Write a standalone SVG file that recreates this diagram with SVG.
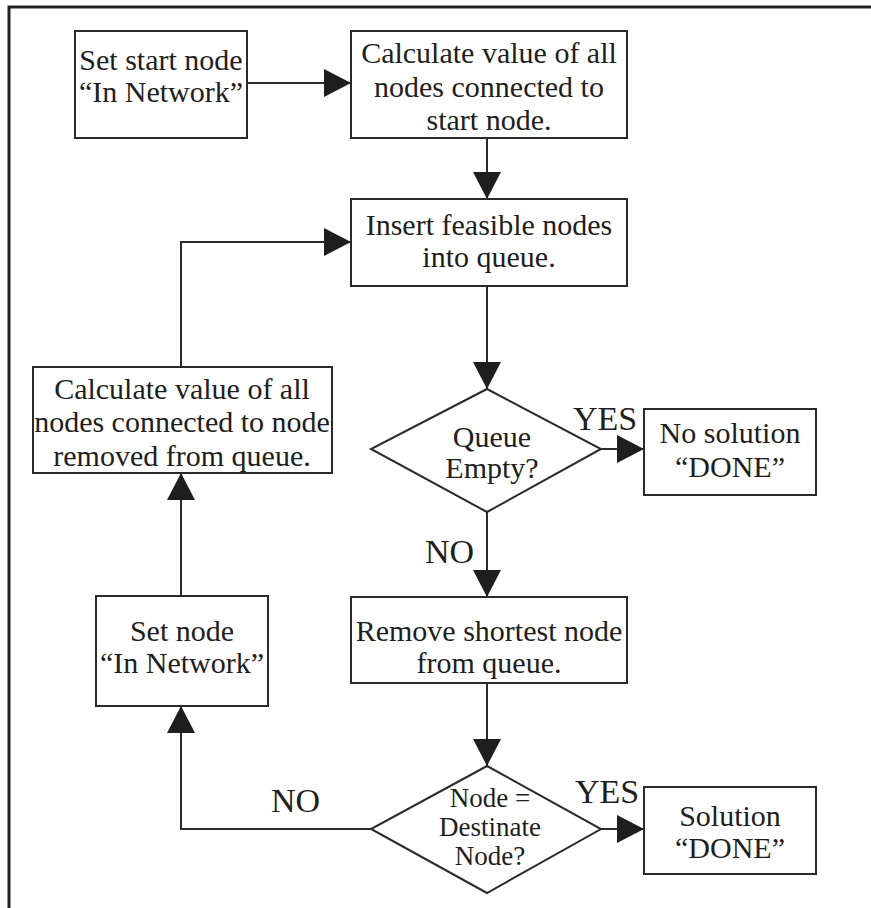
<svg xmlns="http://www.w3.org/2000/svg" width="871" height="908" viewBox="0 0 871 908">
<style>
  .box { fill: #fff; stroke: #2a2a2a; stroke-width: 2; }
  .t { font-family: "Liberation Serif", "Times New Roman", serif; font-size: 30px; fill: #1e1e1e; text-anchor: middle; }
  .ts { font-size: 27px; }
  .lbl { font-family: "Liberation Serif", "Times New Roman", serif; font-size: 34px; fill: #1e1e1e; }
  .c { fill: none; stroke: #2a2a2a; stroke-width: 2; }
</style>
<defs>
  <marker id="ah" markerUnits="userSpaceOnUse" markerWidth="28" markerHeight="28" viewBox="0 0 27 28" refX="27" refY="14" orient="auto">
    <path d="M0,0 L27,14 L0,28 z" fill="#1e1e1e"/>
  </marker>
</defs>
<rect width="871" height="908" fill="#fff"/>
<path d="M9,908 V7 H871" fill="none" stroke="#222" stroke-width="3"/>

<g id="connectors">
  <path class="c" d="M247,83 H351" marker-end="url(#ah)"/>
  <path class="c" d="M487,138 V199" marker-end="url(#ah)"/>
  <path class="c" d="M487,286 V389" marker-end="url(#ah)"/>
  <path class="c" d="M601,449 H644" marker-end="url(#ah)"/>
  <path class="c" d="M487,512 V597" marker-end="url(#ah)"/>
  <path class="c" d="M487,683 V766" marker-end="url(#ah)"/>
  <path class="c" d="M601,829 H644" marker-end="url(#ah)"/>
  <path class="c" d="M371,829 H181 V706" marker-end="url(#ah)"/>
  <path class="c" d="M181,596 V473" marker-end="url(#ah)"/>
  <path class="c" d="M181,367 V242 H351" marker-end="url(#ah)"/>
  <text class="lbl" x="573" y="430">YES</text>
  <text class="lbl" x="425" y="563">NO</text>
  <text class="lbl" x="575" y="803">YES</text>
  <text class="lbl" x="271" y="812">NO</text>
</g>

<g id="start">
  <rect class="box" x="75" y="31" width="172" height="107"/>
  <text class="t" x="161" y="70">Set start node</text>
  <text class="t" x="161" y="102">“In Network”</text>
</g>
<g id="calc-start">
  <rect class="box" x="351" y="31" width="276" height="107"/>
  <text class="t" x="489" y="63">Calculate value of all</text>
  <text class="t" x="489" y="97">nodes connected to</text>
  <text class="t" x="489" y="130">start node.</text>
</g>
<g id="insert">
  <rect class="box" x="351" y="199" width="276" height="87"/>
  <text class="t" x="489" y="235">Insert feasible nodes</text>
  <text class="t" x="489" y="267">into queue.</text>
</g>
<g id="queue-empty">
  <polygon class="box" points="487,389 601,449 487,512 371,449"/>
  <text class="t" x="492" y="447">Queue</text>
  <text class="t" x="492" y="478">Empty?</text>
</g>
<g id="no-solution">
  <rect class="box" x="644" y="409" width="172" height="86"/>
  <text class="t" x="730" y="443">No solution</text>
  <text class="t" x="730" y="477">“DONE”</text>
</g>
<g id="calc-node">
  <rect class="box" x="33" y="367" width="299" height="106"/>
  <text class="t" x="182" y="399">Calculate value of all</text>
  <text class="t" x="182" y="432">nodes connected to node</text>
  <text class="t" x="182" y="466">removed from queue.</text>
</g>
<g id="set-node">
  <rect class="box" x="96" y="596" width="172" height="110"/>
  <text class="t" x="182" y="641">Set node</text>
  <text class="t" x="182" y="673">“In Network”</text>
</g>
<g id="remove">
  <rect class="box" x="351" y="597" width="276" height="86"/>
  <text class="t" x="489" y="641">Remove shortest node</text>
  <text class="t" x="489" y="673">from queue.</text>
</g>
<g id="destinate">
  <polygon class="box" points="487,766 601,829 487,893 371,829"/>
  <text class="t ts" x="490" y="807">Node =</text>
  <text class="t ts" x="490" y="836">Destinate</text>
  <text class="t ts" x="490" y="865">Node?</text>
</g>
<g id="solution">
  <rect class="box" x="644" y="787" width="172" height="87"/>
  <text class="t" x="730" y="826">Solution</text>
  <text class="t" x="730" y="858">“DONE”</text>
</g>
</svg>
